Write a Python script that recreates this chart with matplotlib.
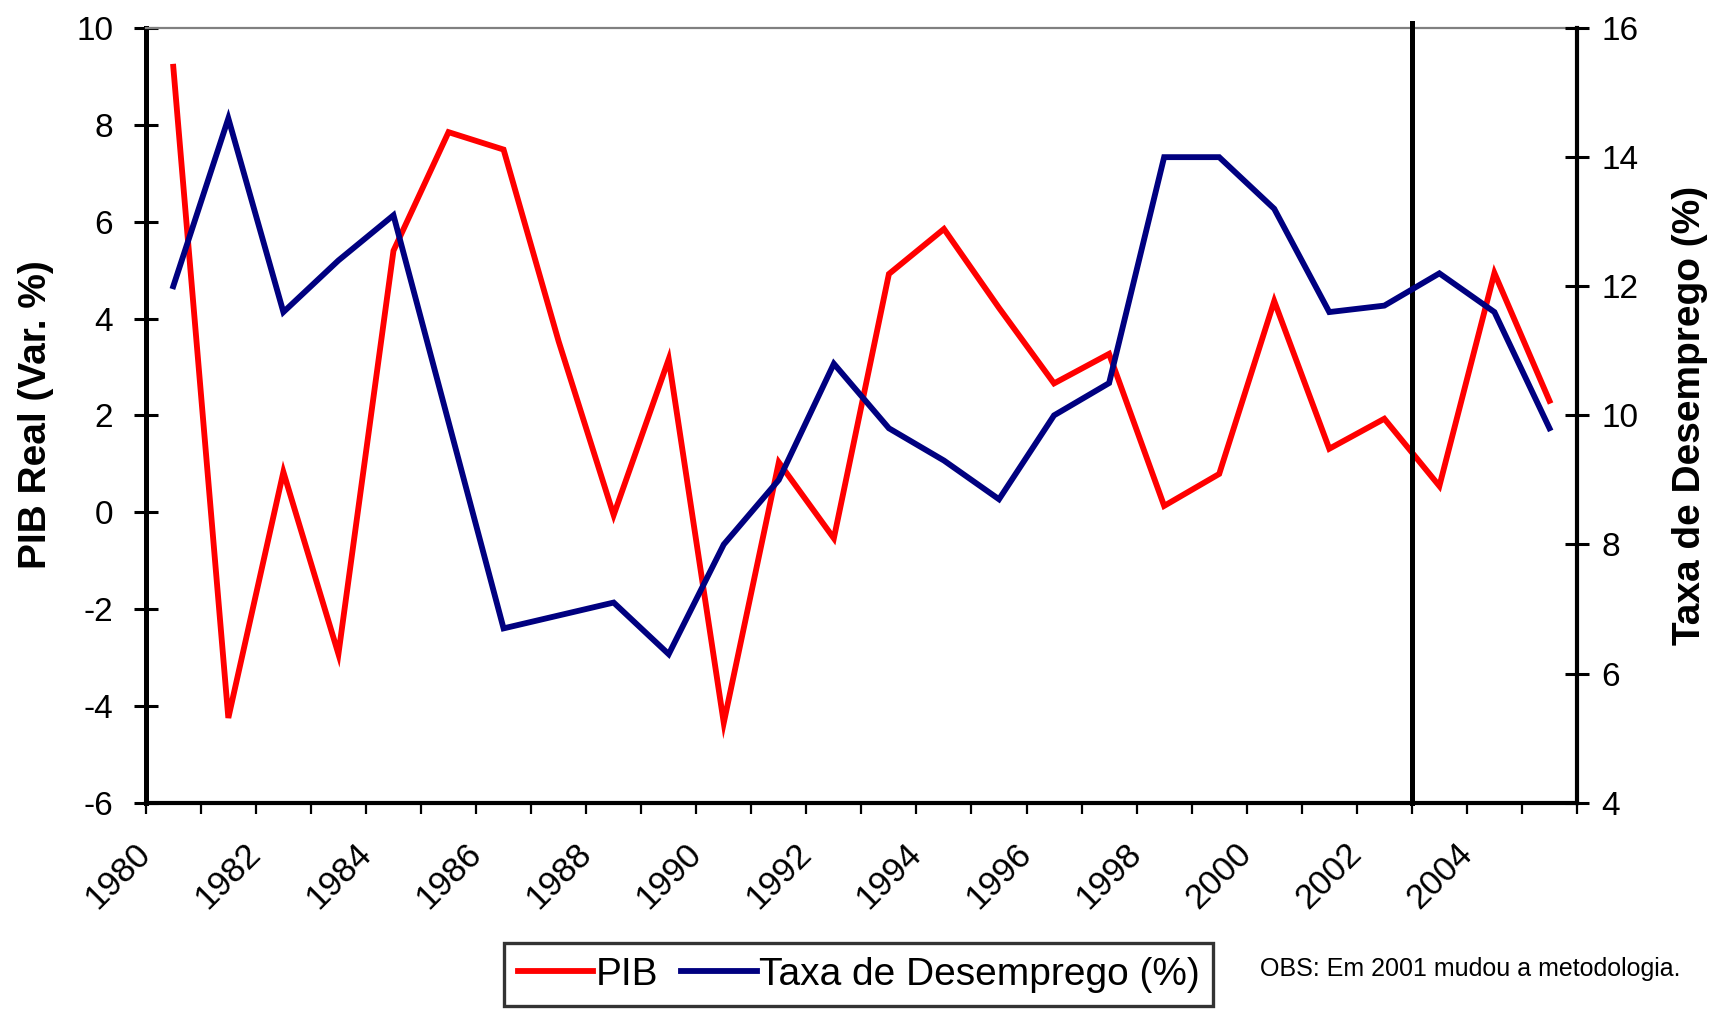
import matplotlib
matplotlib.use("Agg")
import matplotlib.pyplot as plt
from matplotlib import font_manager as fm
from matplotlib.ticker import FixedLocator

# ---------------- data ----------------
years = list(range(1980, 2006))
pib = [9.2, -4.25, 0.83, -2.93, 5.4, 7.85, 7.49, 3.53, -0.06, 3.16,
       -4.35, 1.03, -0.54, 4.92, 5.85, 4.22, 2.66, 3.27, 0.13, 0.79,
       4.36, 1.31, 1.93, 0.54, 4.94, 2.3]
desemprego = [12.0, 14.6, 11.6, 12.4, 13.1, 9.9, 6.7, 6.9, 7.1, 6.3,
              8.0, 9.0, 10.8, 9.8, 9.3, 8.7, 10.0, 10.5, 14.0, 14.0,
              13.2, 11.6, 11.7, 12.2, 11.6, 9.8]
x_ticks = list(range(1980, 2007))
x_labels = [str(y) if (y % 2 == 0 and y <= 2004) else "" for y in x_ticks]
left_ticks = [-6, -4, -2, 0, 2, 4, 6, 8, 10]
right_ticks = [4, 6, 8, 10, 12, 14, 16]
method_change_year = 2003
series_names = ["PIB", "Taxa de Desemprego (%)"]
left_label = "PIB Real (Var. %)"
right_label = "Taxa de Desemprego (%)"
note = "OBS: Em 2001 mudou a metodologia."

# ---------------- fonts ----------------
names = {f.name for f in fm.fontManager.ttflist}
if "Liberation Sans Narrow" in names:
    NARROW = "Liberation Sans Narrow"
    f_ytick, f_xtick, f_leg, f_note = 27, 28, 31, 21
else:
    NARROW = "Liberation Sans"
    f_ytick, f_xtick, f_leg, f_note = 24, 25, 28, 18
BOLD = "Liberation Sans"

RED = "#FF0000"
NAVY = "#000080"

fig = plt.figure(figsize=(17.25, 10.09), dpi=100)
fig.patch.set_facecolor("white")
ax = fig.add_axes([0.0845, 0.2045, 0.9142 - 0.0845, 0.9722 - 0.2045])
ax2 = ax.twinx()

xs = [y + 0.5 for y in years]
l1, = ax.plot(xs, pib, color=RED, lw=4.2, solid_joinstyle="miter", zorder=3)
l2, = ax2.plot(xs, desemprego, color=NAVY, lw=4.2, solid_joinstyle="miter", zorder=3)

ax.axvline(method_change_year, ymin=0, ymax=1.007, color="black", lw=3.6,
           clip_on=False, zorder=5)

ax.set_xlim(1980, 2006)
ax.set_ylim(-6, 10)
ax2.set_ylim(4, 16)

ax.xaxis.set_major_locator(FixedLocator(x_ticks))
ax.set_xticklabels(x_labels, rotation=45, ha="right", va="center",
                   rotation_mode="anchor", fontfamily=NARROW, fontsize=f_xtick)
ax.tick_params(axis="x", direction="out", length=8, width=1.6, pad=25,
               color="black")

ax.set_yticks(left_ticks)
ax.set_yticklabels([str(v) for v in left_ticks], fontfamily=NARROW, fontsize=f_ytick)
ax.tick_params(axis="y", direction="inout", length=17, width=2.2, pad=15)

ax2.set_yticks(right_ticks)
ax2.set_yticklabels([str(v) for v in right_ticks], fontfamily=NARROW, fontsize=f_ytick)
ax2.tick_params(axis="y", direction="inout", length=17, width=2.2, pad=9)

for s in ("left", "bottom"):
    ax.spines[s].set_color("black")
ax.spines["left"].set_linewidth(3.6)
ax.spines["bottom"].set_linewidth(3.0)
ax.spines["top"].set_color("#808080")
ax.spines["top"].set_linewidth(1.6)
ax.spines["right"].set_visible(False)
ax2.spines["right"].set_color("black")
ax2.spines["right"].set_linewidth(3.0)
for s in ("left", "top", "bottom"):
    ax2.spines[s].set_visible(False)

fig.text(36 / 1725, 1 - 415 / 1009, left_label, rotation=90, ha="center",
         va="center", fontfamily=BOLD, fontweight="bold", fontsize=28)
fig.text(1690 / 1725, 1 - 415 / 1009, right_label, rotation=90, ha="center",
         va="center", fontfamily=BOLD, fontweight="bold", fontsize=28)

leg = fig.legend([l1, l2], series_names, loc="upper left",
                 bbox_to_anchor=(504 / 1725, 1 - 943 / 1009),
                 ncol=2, frameon=True, fancybox=False, handlelength=1.95,
                 handletextpad=0.05, columnspacing=0.6, borderpad=0.35,
                 borderaxespad=0.0, prop={"family": NARROW, "size": f_leg})
leg.get_frame().set_edgecolor("black")
leg.get_frame().set_linewidth(2.4)

fig.text(1260 / 1725, 1 - 969 / 1009, note, ha="left", va="center",
         fontfamily=NARROW, fontsize=f_note, color="black")

fig.savefig("out.png", dpi=100, facecolor="white")
